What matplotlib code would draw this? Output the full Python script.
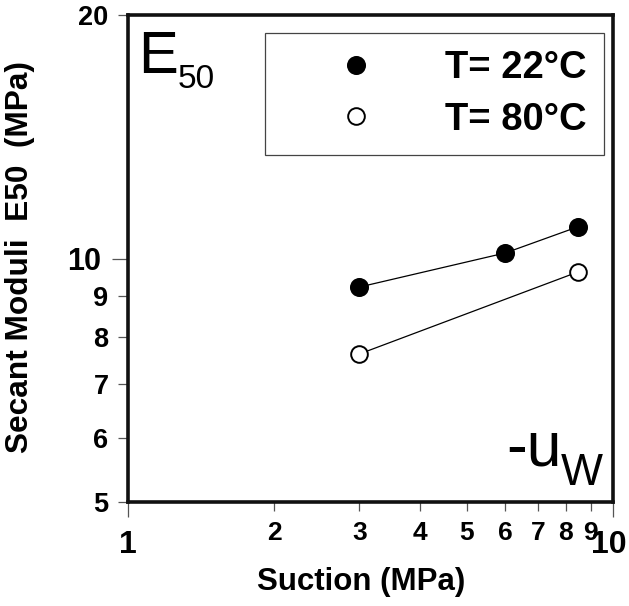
import matplotlib
matplotlib.use("Agg")
import matplotlib.pyplot as plt
import matplotlib.transforms as mtransforms
from matplotlib.ticker import FixedLocator, FixedFormatter

plt.rcParams['font.family'] = ['Liberation Sans', 'DejaVu Sans']

# Data
suction_22 = [3.0, 6.0, 8.45]
e50_22 = [9.22, 10.16, 10.94]
suction_80 = [3.0, 8.45]
e50_80 = [7.62, 9.62]
labels = ["T= 22°C", "T= 80°C"]

x_major = [1, 10]
x_minor = [2, 3, 4, 5, 6, 7, 8, 9]
y_major = [10]
y_minor = [5, 6, 7, 8, 9, 20]

W, H = 629, 606
fig = plt.figure(figsize=(W / 100, H / 100), dpi=100)
ax = fig.add_axes([128 / W, 1 - 502 / H, (613 - 128) / W, (502 - 15) / H])

ax.set_xscale('log')
ax.set_yscale('log')
ax.set_xlim(1, 10)
ax.set_ylim(5, 20)

ax.plot(suction_22, e50_22, '-', color='black', lw=0.9, zorder=2)
ax.plot(suction_80, e50_80, '-', color='black', lw=0.9, zorder=2)
h1, = ax.plot(suction_22, e50_22, 'o', ms=12.5, mfc='black', mec='black', mew=1.2, ls='none', zorder=3)
h2, = ax.plot(suction_80, e50_80, 'o', ms=12, mfc='white', mec='black', mew=1.4, ls='none', zorder=3)

# ticks
ax.xaxis.set_major_locator(FixedLocator(x_major))
ax.xaxis.set_major_formatter(FixedFormatter([str(v) for v in x_major]))
ax.xaxis.set_minor_locator(FixedLocator(x_minor))
ax.xaxis.set_minor_formatter(FixedFormatter([str(v) for v in x_minor]))
ax.yaxis.set_major_locator(FixedLocator(y_major))
ax.yaxis.set_major_formatter(FixedFormatter([str(v) for v in y_major]))
ax.yaxis.set_minor_locator(FixedLocator(y_minor))
ax.yaxis.set_minor_formatter(FixedFormatter([str(v) for v in y_minor]))

ax.tick_params(axis='x', which='major', direction='out', length=11, width=0.9,
               color='#555555', labelsize=23, pad=9.5)
ax.tick_params(axis='x', which='minor', direction='out', length=6.5, width=0.9,
               color='#555555', labelsize=19, pad=7)
ax.tick_params(axis='y', which='major', direction='out', length=11.5, width=0.9,
               color='#555555', labelsize=22, pad=8)
ax.tick_params(axis='y', which='minor', direction='out', length=7, width=0.9,
               color='#555555', labelsize=19.5, pad=7)
for lab in ax.get_xticklabels(which='both') + ax.get_yticklabels(which='both'):
    lab.set_fontweight('bold')

# nudge the "10" label on x slightly left, as in the reference
shift = mtransforms.ScaledTranslation(-4 / 100, 0, fig.dpi_scale_trans)
xmaj = ax.get_xticklabels(which='major')
xmaj[-1].set_transform(xmaj[-1].get_transform() + shift)

for s in ax.spines.values():
    s.set_linewidth(2.6)
    s.set_color('#111111')

ax.set_xlabel('Suction (MPa)', fontsize=22.5, fontweight='bold')
ax.set_ylabel('Secant Moduli  E50  (MPa)', fontsize=22.8, fontweight='bold')
ax.xaxis.set_label_coords(0.481, -0.133)
ax.yaxis.set_label_coords(-0.191, 0.503)

# legend
leg = ax.legend([h1, h2], labels, loc='upper left',
                bbox_to_anchor=((265 - 128) / 485, (502 - 33) / 487),
                borderaxespad=0, prop={'weight': 'bold', 'size': 27.5},
                frameon=True, fancybox=False, framealpha=1, edgecolor='#444444',
                handlelength=3.85, handletextpad=0.42, borderpad=0.45,
                labelspacing=0.41, markerscale=1.0)
leg.get_frame().set_linewidth(0.9)

# annotations
fig.text(138 / W, 1 - 73 / H, 'E', fontsize=43, va='baseline', ha='left')
fig.text(178 / W, 1 - 88 / H, '50', fontsize=24, va='baseline', ha='left')
fig.text(506 / W, 1 - 465 / H, '-u', fontsize=45, va='baseline', ha='left')
fig.text(561 / W, 1 - 485 / H, 'W', fontsize=32, va='baseline', ha='left')

fig.savefig('out.png', dpi=100)
